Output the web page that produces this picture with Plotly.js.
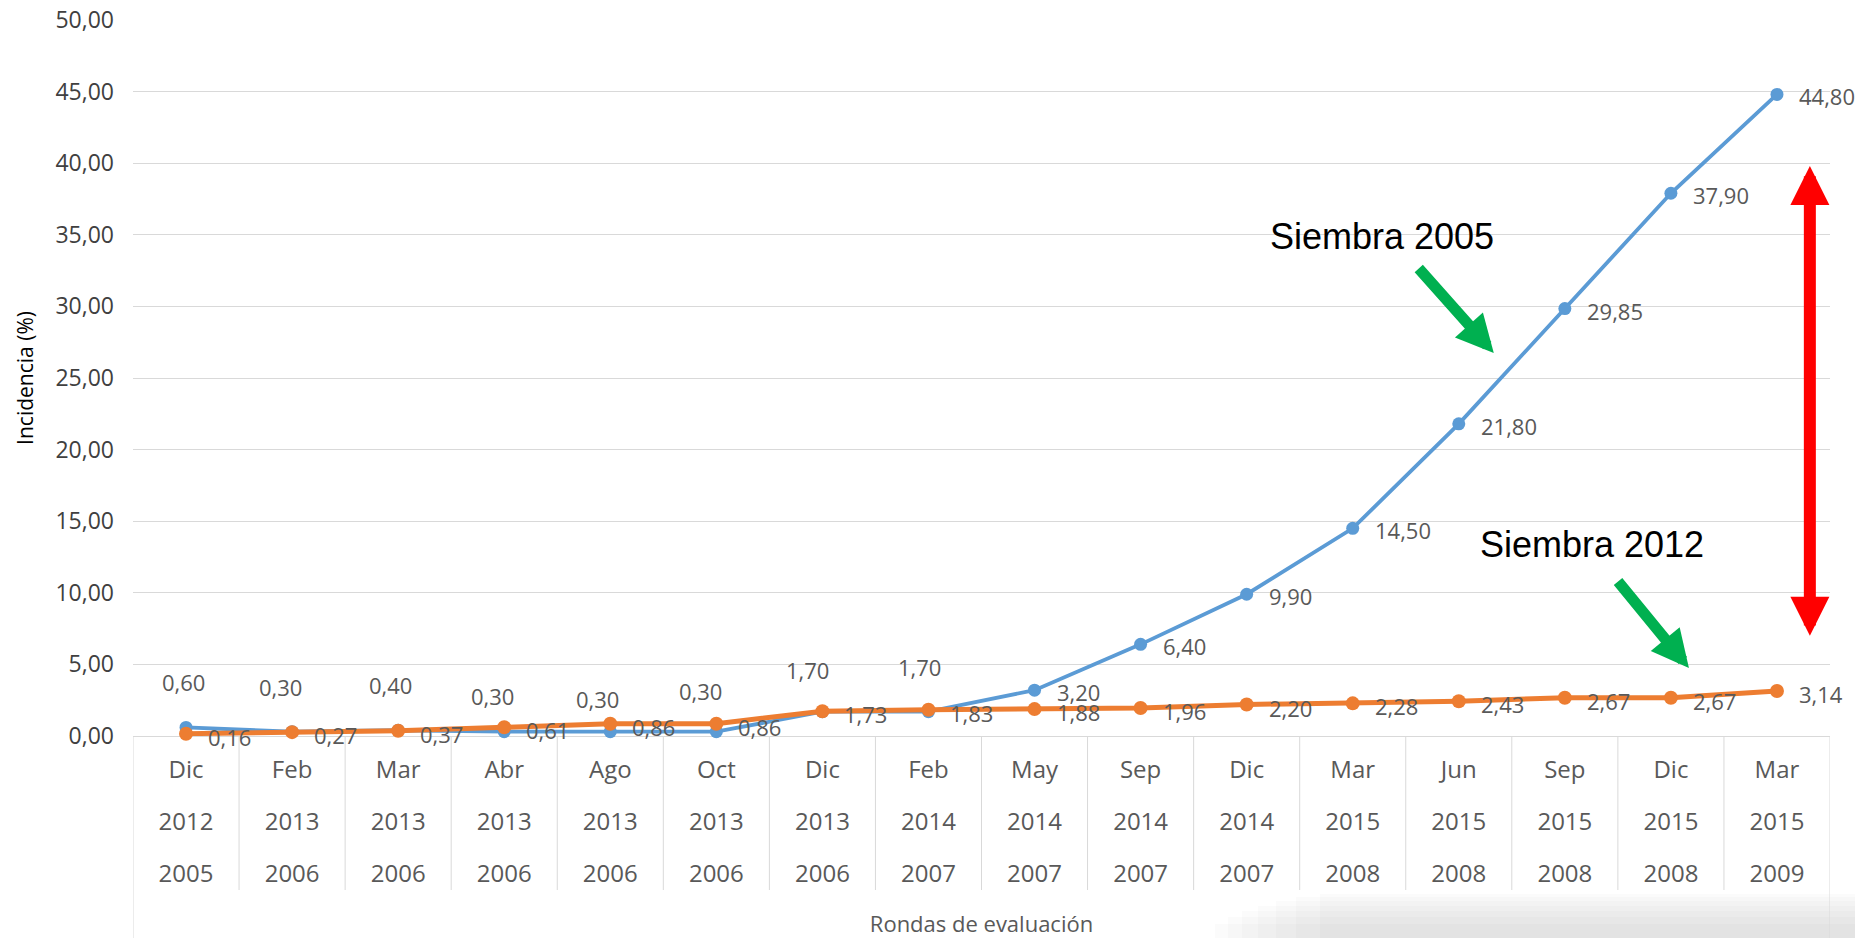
<!DOCTYPE html>
<html>
<head>
<meta charset="utf-8">
<script src="https://cdn.plot.ly/plotly-3.0.1.min.js"></script>
<style>
html,body{margin:0;padding:0;background:#ffffff;}
#chart{width:1855px;height:938px;}
</style>
</head>
<body>
<div id="chart"></div>
<script>
// ---- data ----
const months     = ['Dic','Feb','Mar','Abr','Ago','Oct','Dic','Feb','May','Sep','Dic','Mar','Jun','Sep','Dic','Mar'];
const evalYears  = ['2012','2013','2013','2013','2013','2013','2013','2014','2014','2014','2014','2015','2015','2015','2015','2015'];
const plantYears = ['2005','2006','2006','2006','2006','2006','2006','2007','2007','2007','2007','2008','2008','2008','2008','2009'];
const siembra2005 = [0.60,0.30,0.40,0.30,0.30,0.30,1.70,1.70,3.20,6.40,9.90,14.50,21.80,29.85,37.90,44.80];
const siembra2012 = [0.16,0.27,0.37,0.61,0.86,0.86,1.73,1.83,1.88,1.96,2.20,2.28,2.43,2.67,2.67,3.14];
const yTickVals = [0,5,10,15,20,25,30,35,40,45,50];
const seriesNames = ['Siembra 2005','Siembra 2012'];

// ---- derived ----
const keys = months.map((m,i)=> m+' '+evalYears[i]+' '+plantYears[i]);
const span = t => '<span style="font-size:24px">' + t + '</span>';
const tickLabels = months.map((m,i)=> span(m) + '<br>' + span(evalYears[i]) + '<br>' + span(plantYears[i]));
const fmt = v => v.toFixed(2).replace('.', ',');

// label placement styles (pixel offsets) for the first labels of the 2005 series, placed above
const aboveDx = [-3,-12,-8,-12,-13,-16,-15,-9];
const aboveDy = [45,45,45,36,33,41,42,45];

const blue = '#5B9BD5', orange = '#ED7D31';
const FONT = 'Open Sans, Liberation Sans, sans-serif';

const traces = [
  {x: keys, y: siembra2005, name: seriesNames[0], type:'scatter', mode:'lines+markers',
   line:{color:blue, width:3.8}, marker:{color:blue, size:13}, cliponaxis:false, hoverinfo:'skip'},
  {x: keys, y: siembra2012, name: seriesNames[1], type:'scatter', mode:'lines+markers',
   line:{color:orange, width:5}, marker:{color:orange, size:14}, cliponaxis:false, hoverinfo:'skip'}
];

const annotations = [];
siembra2005.forEach((v,i)=>{
  if (i < aboveDx.length) {
    annotations.push({x: keys[i], y: v, xref:'x', yref:'y', text: fmt(v), showarrow:false,
      xanchor:'center', yanchor:'middle', xshift: aboveDx[i], yshift: aboveDy[i],
      font:{family:FONT, size:22, color:'#595959'}});
  } else {
    annotations.push({x: keys[i], y: v, xref:'x', yref:'y', text: fmt(v), showarrow:false,
      xanchor:'left', yanchor:'middle', xshift: 20, yshift: -2,
      font:{family:FONT, size:22, color:'#595959'}});
  }
});
siembra2012.forEach((v,i)=>{
  annotations.push({x: keys[i], y: v, xref:'x', yref:'y', text: fmt(v), showarrow:false,
    xanchor:'left', yanchor:'middle', xshift: 20, yshift: -3,
    font:{family:FONT, size:22, color:'#595959'}});
});

// series callouts
annotations.push({x:11.28, y:34.9, xref:'x', yref:'y', text: seriesNames[0], showarrow:false,
  font:{family:'Liberation Sans, Arial, sans-serif', size:36, color:'#000'}});
annotations.push({x:13.26, y:13.4, xref:'x', yref:'y', text: seriesNames[1], showarrow:false,
  font:{family:'Liberation Sans, Arial, sans-serif', size:36, color:'#000'}});
// green arrows
annotations.push({x:12.33, y:26.75, ax:11.61, ay:32.75, xref:'x', yref:'y', axref:'x', ayref:'y',
  text:'', showarrow:true, arrowhead:2, arrowsize:0.68, arrowwidth:11, arrowcolor:'#00B050', standoff:0});
annotations.push({x:14.17, y:4.75, ax:13.49, ay:10.89, xref:'x', yref:'y', axref:'x', ayref:'y',
  text:'', showarrow:true, arrowhead:2, arrowsize:0.68, arrowwidth:11, arrowcolor:'#00B050', standoff:0});
// red double arrow
annotations.push({x:15.31, y:39.8, ax:15.31, ay:6.9, xref:'x', yref:'y', axref:'x', ayref:'y',
  text:'', showarrow:true, arrowside:'end+start', arrowhead:2, startarrowhead:2,
  arrowsize:0.65, startarrowsize:0.65, arrowwidth:12, arrowcolor:'#FF0000', standoff:0, startstandoff:0});

// category table lines below the axis
const plotTop = 20, plotBottom = 736, plotH = plotBottom - plotTop;
const pyToPaper = py => (plotBottom - py) / plotH;
const pxToPaper = px => (px - 133) / (1830 - 133);
const shapes = [];
for (let b = 0; b <= months.length; b++) {
  const edge = (b === 0 || b === months.length);
  shapes.push({type:'line', xref:'x', yref:'paper', x0: b-0.5, x1: b-0.5,
    y0: 0, y1: pyToPaper(edge ? 940 : 890), line:{color:'#d9d9d9', width:1}});
}
// faint shadow at bottom right (screenshot artifact)
[[1215,924],[1228,917],[1242,911],[1258,906],[1276,901],[1296,897],[1320,894]].forEach(s=>{
  shapes.push({type:'rect', xref:'paper', yref:'paper', x0: pxToPaper(s[0]), x1: pxToPaper(1860),
    y0: pyToPaper(s[1]), y1: pyToPaper(945), line:{width:0}, fillcolor:'rgba(0,0,0,0.014)', layer:'below'});
});

const layout = {
  width:1855, height:938,
  margin:{l:133, r:25, t:20, b:202, pad:0},
  paper_bgcolor:'#ffffff', plot_bgcolor:'#ffffff',
  separators: ',.',
  showlegend:false,
  font:{family:FONT, color:'#595959'},
  xaxis: {
    type:'category', categoryorder:'array', categoryarray: keys, range:[-0.5, months.length-0.5],
    tickmode:'array', tickvals: keys, ticktext: tickLabels, ticklabelstandoff: 1,
    showgrid:false, zeroline:false, showline:false, ticks:'', fixedrange:true,
    tickfont:{family:FONT, size:40, color:'#595959'},
    title:{text:'Rondas de evaluación', font:{family:FONT, size:22, color:'#595959'}, standoff:30}
  },
  yaxis: {
    range:[0,50], tickmode:'array', tickvals: yTickVals, tickformat:'.2f',
    showgrid:true, gridcolor:'#d9d9d9', gridwidth:1,
    zeroline:true, zerolinecolor:'#d9d9d9', zerolinewidth:1, showline:false, ticks:'',
    tickfont:{family:FONT, size:23, color:'#404040'}, ticklabelstandoff: 18, fixedrange:true,
    title:{text:'Incidencia (%)', font:{family:FONT, size:21, color:'#000000'}, standoff:16}
  },
  annotations: annotations,
  shapes: shapes
};

Plotly.newPlot('chart', traces, layout, {displayModeBar:false, staticPlot:true});
</script>
</body>
</html>
